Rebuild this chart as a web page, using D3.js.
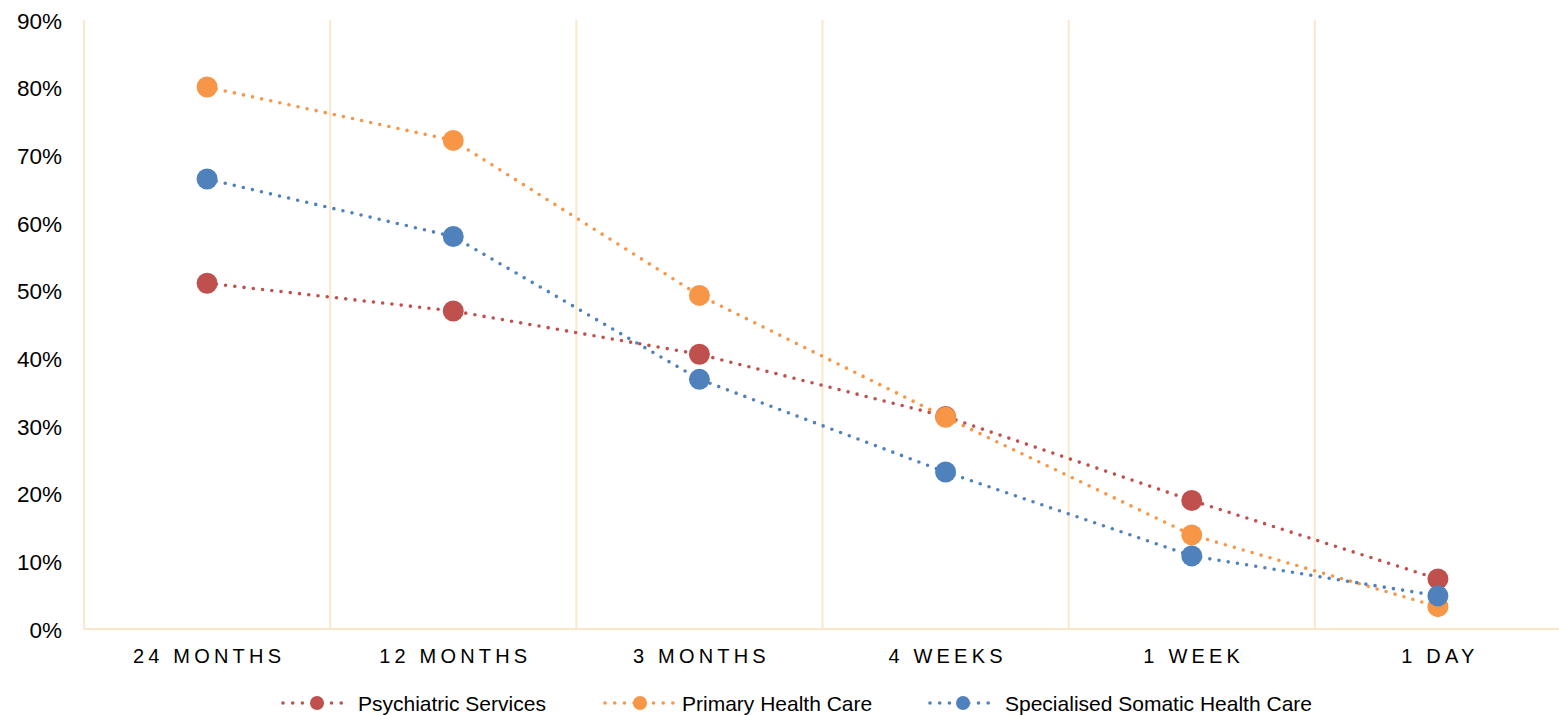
<!DOCTYPE html>
<html>
<head>
<meta charset="utf-8">
<script src="https://cdn.jsdelivr.net/npm/d3@7"></script>
<style>
  html, body { margin: 0; padding: 0; background: #ffffff; }
  svg { display: block; font-family: "Liberation Sans", Arial, sans-serif; }
</style>
</head>
<body>
<svg id="chart" width="1559" height="715"></svg>
<script>
const categories = ["24 MONTHS", "12 MONTHS", "3 MONTHS", "4 WEEKS", "1 WEEK", "1 DAY"];
const psychiatric = [0.511, 0.470, 0.406, 0.314, 0.190, 0.074];
const primary = [0.801, 0.722, 0.493, 0.313, 0.139, 0.033];
const specialised = [0.665, 0.580, 0.369, 0.232, 0.108, 0.049];
const seriesNames = ["Psychiatric Services", "Primary Health Care", "Specialised Somatic Health Care"];
const seriesColors = ["#C0504D", "#F79646", "#4F81BD"];
const yTicks = [0, 0.1, 0.2, 0.3, 0.4, 0.5, 0.6, 0.7, 0.8, 0.9];

const seriesData = [psychiatric, primary, specialised];

const svg = d3.select("#chart");
const x = d3.scaleBand().domain(categories).range([84, 1561]);
const y = d3.scaleLinear().domain([0, 0.9]).range([629, 20]);
const gridColor = "#FBE7CC";

// vertical gridlines at category boundaries
const bounds = categories.map(c => x(c));
svg.append("g").selectAll("line").data(bounds).join("line")
  .attr("x1", d => d).attr("x2", d => d)
  .attr("y1", y(0.9)).attr("y2", y(0))
  .attr("stroke", gridColor).attr("stroke-width", 2);

// bottom axis line
svg.append("line")
  .attr("x1", 84).attr("x2", 1559)
  .attr("y1", y(0)).attr("y2", y(0))
  .attr("stroke", gridColor).attr("stroke-width", 2);

// y axis labels
const yAxis = d3.axisLeft(y).tickValues(yTicks).tickFormat(d3.format(".0%")).tickSize(0).tickPadding(0);
const yg = svg.append("g").attr("transform", "translate(62,0)").call(yAxis);
yg.select(".domain").remove();
yg.selectAll("text").attr("font-size", 22.5).attr("fill", "#000").attr("font-family", "Liberation Sans, Arial, sans-serif").attr("dy", "0.36em");

// x axis labels
const xAxis = d3.axisBottom(x).tickSize(0).tickPadding(0);
const xg = svg.append("g").attr("transform", "translate(0,663)").call(xAxis);
xg.select(".domain").remove();
xg.selectAll("text").attr("font-size", 20).attr("fill", "#000")
  .attr("font-family", "Liberation Sans, Arial, sans-serif")
  .attr("dy", 0).attr("letter-spacing", "4.2px")
  .attr("dx", "2px");

// series
const line = d3.line().x((d, i) => x(categories[i]) + x.bandwidth() / 2).y(d => y(d));
seriesData.forEach((vals, si) => {
  const g = svg.append("g");
  g.append("path").datum(vals).attr("d", line)
    .attr("fill", "none").attr("stroke", seriesColors[si])
    .attr("stroke-width", 3.6).attr("stroke-linecap", "round")
    .attr("stroke-dasharray", "0 9.3");
  g.selectAll("circle").data(vals).join("circle")
    .attr("cx", (d, i) => x(categories[i]) + x.bandwidth() / 2)
    .attr("cy", d => y(d)).attr("r", 10.5)
    .attr("fill", seriesColors[si]);
});

// legend
const legendItems = [
  { lx: 283, len: 58, cx: 317, tx: 358 },
  { lx: 605, len: 68, cx: 640, tx: 682 },
  { lx: 930, len: 58, cx: 963, tx: 1005 }
];
const legendY = 703;
seriesNames.forEach((name, i) => {
  const li = legendItems[i];
  const g = svg.append("g");
  g.append("line").attr("x1", li.lx).attr("x2", li.lx + li.len + 0.5)
    .attr("y1", legendY).attr("y2", legendY)
    .attr("stroke", seriesColors[i]).attr("stroke-width", 3.6)
    .attr("stroke-linecap", "round").attr("stroke-dasharray", "0 9.7");
  g.append("circle").attr("cx", li.cx).attr("cy", legendY).attr("r", 7)
    .attr("fill", seriesColors[i]);
  g.append("text").attr("x", li.tx).attr("y", legendY + 8)
    .attr("font-size", 21).attr("fill", "#000").text(name);
});
</script>
</body>
</html>
